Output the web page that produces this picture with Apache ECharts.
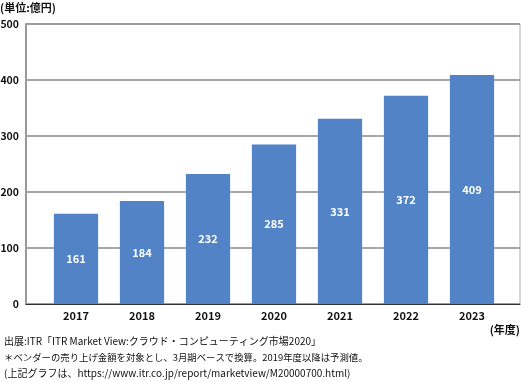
<!DOCTYPE html>
<html><head><meta charset="utf-8">
<script src="https://cdn.jsdelivr.net/npm/echarts@6/dist/echarts.min.js"></script>
<style>html,body{margin:0;padding:0;background:#fff}#c{width:522px;height:382px}</style>
</head><body><div id="c"></div>
<script>
const categories = ['2017','2018','2019','2020','2021','2022','2023'];
const values = [161,184,232,285,331,372,409];
const yTicks = [0,100,200,300,400,500];
const unitLabel = '(単位:億円)';
const xUnitLabel = '(年度)';
const notes = [
  '出展:ITR「ITR Market View:クラウド・コンピューティング市場2020」',
  '＊ベンダーの売り上げ金額を対象とし、3月期ベースで換算。2019年度以降は予測値。',
  '(上記グラフは、https://www.itr.co.jp/report/marketview/M20000700.html)'
];
const FONT = '"Noto Sans CJK JP", "Noto Sans", sans-serif';
const yMin = yTicks[0], yMax = yTicks[yTicks.length-1];
const chart = echarts.init(document.getElementById('c'), null, {renderer:'canvas'});
chart.setOption({
  animation:false,
  textStyle:{fontFamily:FONT},
  grid:[
    {left:26,right:2,top:24,bottom:78,show:true,borderColor:'#aaaaaa',borderWidth:1,containLabel:false,outerBoundsMode:'none'},
    {left:43,right:17,top:24,bottom:78,show:false,containLabel:false,outerBoundsMode:'none'}
  ],
  xAxis:[
    {gridIndex:0,type:'category',data:categories,
      axisLine:{lineStyle:{color:'#333',width:1}},axisTick:{show:false},axisLabel:{show:false},splitLine:{show:false}},
    {gridIndex:1,type:'category',data:categories,
      axisLine:{show:false},axisTick:{show:false},
      axisLabel:{color:'#111',fontWeight:'bold',fontSize:11,fontFamily:FONT,margin:6}}
  ],
  yAxis:[
    {gridIndex:0,type:'value',min:yMin,max:yMax,interval:100,
      axisLine:{show:true,lineStyle:{color:'#999',width:2}},axisTick:{show:false},
      splitLine:{lineStyle:{color:'#8a8a8a',width:1.5}},
      axisLabel:{color:'#111',fontWeight:'bold',fontSize:10.5,fontFamily:FONT,margin:7}},
    {gridIndex:1,type:'value',min:yMin,max:yMax,interval:100,show:false}
  ],
  series:[{type:'bar',xAxisIndex:1,yAxisIndex:1,data:values,barWidth:'67%',
    itemStyle:{color:'#5283c6'},
    label:{show:true,position:'inside',color:'#fff',fontWeight:'bold',fontSize:11,fontFamily:FONT}}],
  graphic:[
    {type:'text',x:0,y:8,style:{text:unitLabel,fill:'#111',font:'bold 11px '+FONT,verticalAlign:'middle'}},
    {type:'text',x:520,y:330,style:{text:xUnitLabel,fill:'#111',font:'bold 11px '+FONT,align:'right',verticalAlign:'middle'}},
    {type:'text',x:4,y:341,style:{text:notes[0],fill:'#111',font:'10px '+FONT,verticalAlign:'middle'}},
    {type:'text',x:4,y:357,style:{text:notes[1],fill:'#111',font:'9.4px '+FONT,verticalAlign:'middle'}},
    {type:'text',x:4,y:373,style:{text:notes[2],fill:'#111',font:'10px '+FONT,verticalAlign:'middle'}}
  ]
});
</script></body></html>
